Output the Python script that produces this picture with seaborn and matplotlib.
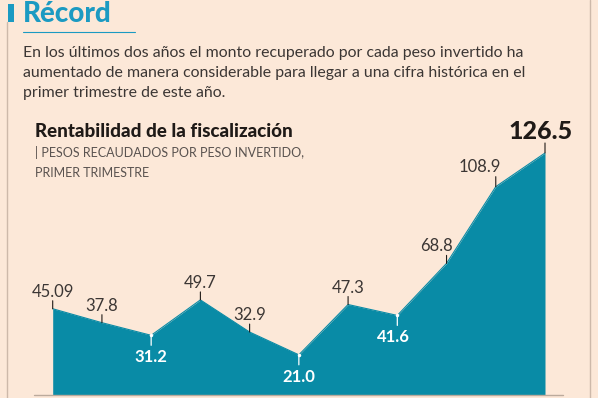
import numpy as np
import matplotlib.pyplot as plt
from matplotlib.lines import Line2D
import seaborn as sns

# ============================================================
# DATA: pesos recaudados por peso invertido (primer trimestre)
# ============================================================
valores = [45.09, 37.8, 31.2, 49.7, 32.9, 21.0, 47.3, 41.6, 68.8, 108.9, 126.5]
etiquetas = ["45.09", "37.8", "31.2", "49.7", "32.9", "21.0",
             "47.3", "41.6", "68.8", "108.9", "126.5"]
periodos = np.arange(len(valores))

titulo = "Récord"
parrafo = ["En los últimos dos años el monto recuperado por cada peso invertido ha",
           "aumentado de manera considerable para llegar a una cifra histórica en el",
           "primer trimestre de este año."]
titulo_graf = "Rentabilidad de la fiscalización"
subtitulo = ["| PESOS RECAUDADOS POR PESO INVERTIDO,", "PRIMER TRIMESTRE"]

# ============================================================
# STYLE
# ============================================================
BG = "#FCE8D8"
TEAL = "#098BA6"
TEAL_TIT = "#1B9AC2"
DARK = "#1F1A17"
TEXTO = "#3B3634"
GRIS = "#5A5350"
BORDE = "#CDB9AA"

sns.set_theme(style="white", rc={"axes.facecolor": BG, "figure.facecolor": BG})
plt.rcParams['font.family'] = ['Lato', 'DejaVu Sans']

W, H = 598, 398


def fx(px):
    return px / W


def fy(py):
    return 1 - py / H


fig = plt.figure(figsize=(W / 100, H / 100), dpi=100)

# ============================================================
# CHART AREA
# ============================================================
ax = fig.add_axes([fx(52.7), fy(395), (545 - 52.7) / W, (395 - 153) / H])
sns.lineplot(x=periodos, y=valores, ax=ax, color=TEAL, lw=0.8)
ax.lines[0].set_clip_on(False)
ax.fill_between(periodos, valores, 0, color=TEAL, lw=0, clip_on=False)
ax.set_xlim(0, len(valores) - 1)
ax.set_ylim(0, max(valores))
ax.axis('off')

# baseline
ax.plot([-0.38, 10.36], [0, 0], color="#BBAA9C", lw=1, clip_on=False, zorder=5)

# label placement: 'up' dark light text, 'down' white bold, 'top' big bold
modo = ['up', 'up', 'down', 'up', 'up', 'down', 'up', 'down', 'up', 'up', 'top']
dx_lab = [0, 0, 0, 0, 0, 0, 0, -4, -10, -16, -4]

for i, (v, t) in enumerate(zip(valores, etiquetas)):
    if modo[i] == 'down':
        ax.annotate('', xy=(i, v), xytext=(0, -10), textcoords='offset pixels',
                    arrowprops=dict(arrowstyle='-', color='white', lw=0.9,
                                    shrinkA=0, shrinkB=0), annotation_clip=False)
        ax.plot(i, v, marker='o', ms=2.5, color='white', mew=0, clip_on=False)
        ax.annotate(t, xy=(i, v), xytext=(dx_lab[i], -27), textcoords='offset pixels',
                    ha='center', va='baseline', color='white', fontsize=12,
                    fontweight='bold', annotation_clip=False)
    else:
        tick = 10 if modo[i] == 'top' or i == 9 else 8
        ax.annotate('', xy=(i, v), xytext=(0, tick), textcoords='offset pixels',
                    arrowprops=dict(arrowstyle='-', color=DARK, lw=0.8,
                                    shrinkA=0, shrinkB=0), annotation_clip=False)
        if modo[i] == 'top':
            ax.annotate(t, xy=(i, v), xytext=(dx_lab[i], 14), textcoords='offset pixels',
                        ha='center', va='baseline', color=DARK, fontsize=18,
                        fontweight='black', annotation_clip=False)
        else:
            dy = 15 if i == 9 else 12
            ax.annotate(t, xy=(i, v), xytext=(dx_lab[i], dy), textcoords='offset pixels',
                        ha='center', va='baseline', color=TEXTO, fontsize=12,
                        fontweight='normal', annotation_clip=False)

# ============================================================
# HEADER
# ============================================================
fig.add_artist(plt.Rectangle((fx(8), fy(22)), 6 / W, 18 / H,
                             transform=fig.transFigure, color=TEAL_TIT, lw=0))
fig.add_artist(Line2D([fx(7), fx(7)], [fy(22), 0], color=BORDE, lw=1))
fig.add_artist(Line2D([fx(590), fx(590)], [0, 1], color=BORDE, lw=1))
fig.add_artist(Line2D([fx(23), fx(135)], [fy(32), fy(32)], color=TEAL_TIT, lw=0.8))

fig.text(fx(23), fy(22), titulo, fontsize=20, fontweight='black',
         color=TEAL_TIT, va='baseline')
for k, linea in enumerate(parrafo):
    fig.text(fx(23), fy(57 + 20 * k), linea, fontsize=11.4, fontweight='normal',
             color=TEXTO, va='baseline')

fig.text(fx(35), fy(137), titulo_graf, fontsize=13.5, fontweight='black',
         color=DARK, va='baseline')
for k, linea in enumerate(subtitulo):
    fig.text(fx(35), fy(157 + 20 * k), linea, fontsize=9, fontweight='normal',
             color=GRIS, va='baseline')

fig.savefig('out.png', dpi=100, facecolor=BG)
